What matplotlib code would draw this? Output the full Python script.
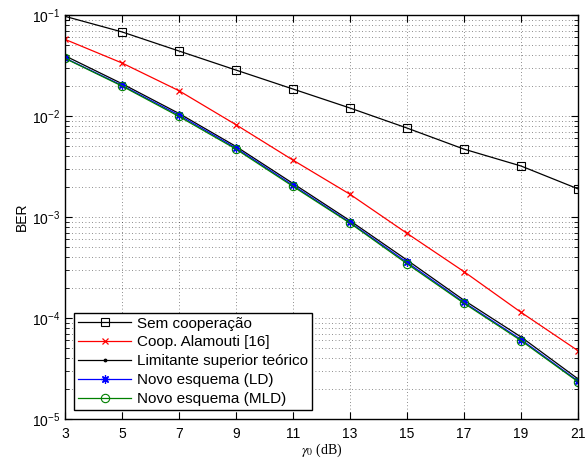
import matplotlib
matplotlib.use("Agg")
import matplotlib.pyplot as plt
from matplotlib.ticker import LogLocator, NullFormatter

# data
snr = [3, 5, 7, 9, 11, 13, 15, 17, 19, 21]
sem_coop = [0.097, 0.068, 0.044, 0.0285, 0.0185, 0.012, 0.0076, 0.0047, 0.0032, 0.0019]
alamouti = [0.0574, 0.0335, 0.0178, 0.0082, 0.00366, 0.00168, 0.00069, 0.000288, 0.000114, 4.75e-5]
limitante = [0.0395, 0.0209, 0.0106, 0.0050, 0.00215, 0.00092, 0.000375, 0.000150, 6.5e-5, 2.5e-5]
novo_ld = [0.0375, 0.0201, 0.0102, 0.00482, 0.00206, 0.000885, 0.000356, 0.000143, 6.13e-5, 2.38e-5]
novo_mld = [0.0372, 0.0198, 0.0099, 0.0047, 0.00201, 0.00087, 0.000345, 0.000140, 5.98e-5, 2.34e-5]
labels = ["Sem cooperação", "Coop. Alamouti [16]", "Limitante superior teórico",
          "Novo esquema (LD)", "Novo esquema (MLD)"]

plt.rcParams["font.family"] = ["Liberation Sans", "DejaVu Sans"]
plt.rcParams["mathtext.fontset"] = "stix"

fig = plt.figure(figsize=(5.85, 4.61), dpi=100)
ax = fig.add_axes([0.111, 0.091, 0.877, 0.8765])

lw = 0.9
star = (8, 2, 0)  # asterisk like matlab '*'
ax.semilogy(snr, sem_coop, color="black", lw=lw, marker="s", ms=5.5, mfc="none", mew=0.8, label=labels[0])
ax.semilogy(snr, alamouti, color="red", lw=lw, marker="x", ms=5, mew=0.9, label=labels[1])
ax.semilogy(snr, limitante, color="black", lw=lw, marker=".", ms=3.5, label=labels[2])
ax.semilogy(snr, novo_ld, color="blue", lw=lw, marker=star, ms=6, mew=0.9, label=labels[3])
ax.semilogy(snr, novo_mld, color="green", lw=lw, marker="o", ms=6, mfc="none", mew=0.8, label=labels[4])

ax.set_xlim(3, 21)
ax.set_ylim(1e-5, 1e-1)
ax.set_xticks(range(3, 22, 2))
ax.yaxis.set_major_locator(LogLocator(base=10, numticks=10))
ax.yaxis.set_minor_locator(LogLocator(base=10, subs=range(2, 10), numticks=20))
ax.yaxis.set_minor_formatter(NullFormatter())

ax.grid(True, which="major", linestyle=(0, (1, 3)), color="black", lw=0.6, alpha=0.6)
ax.grid(True, which="minor", axis="y", linestyle=(0, (1, 3)), color="black", lw=0.6, alpha=0.6)
ax.tick_params(which="both", direction="in", top=True, right=True, labelsize=10)
ax.tick_params(axis="x", pad=6)
ax.tick_params(which="major", length=5)
ax.tick_params(which="minor", length=3)
for s in ax.spines.values():
    s.set_linewidth(1.0)

ax.set_ylabel("BER", fontsize=10, labelpad=2)
ax.set_xlabel(r"$\gamma_0$ (dB)", fontsize=10, family="Liberation Serif", labelpad=0)

leg = ax.legend(loc="lower left", fontsize=11, handlelength=3.5, labelspacing=0.32,
                borderpad=0.25, handletextpad=0.35, borderaxespad=0.6, fancybox=False,
                framealpha=1, edgecolor="black")
leg.get_frame().set_linewidth(1.0)

fig.savefig("out.png", dpi=100)
